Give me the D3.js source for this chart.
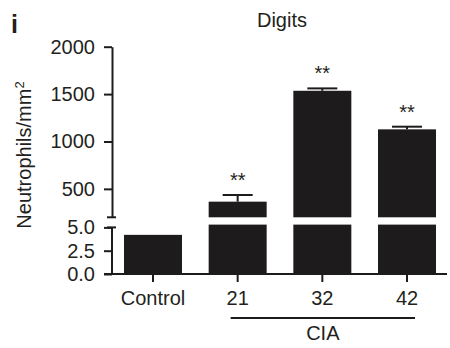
<!DOCTYPE html>
<html>
<head>
<meta charset="utf-8">
<script src="https://cdnjs.cloudflare.com/ajax/libs/d3/7.8.5/d3.min.js"></script>
<style>
  body { margin: 0; background: #fff; }
  svg text { font-family: "Liberation Sans", Arial, sans-serif; fill: #231f20; }
</style>
</head>
<body>
<div id="chart"></div>
<script>
// data
var categories = ['Control', '21', '32', '42'];
var means = [4.2, 365, 1535, 1128];
var errors = [0, 70, 25, 28];
var stars = ['', '**', '**', '**'];
var upperTicks = [500, 1000, 1500, 2000];
var lowerTicks = [0, 2.5, 5];
var groupLabel = 'CIA';
var groupMembers = ['21', '32', '42'];

var W = 450, H = 348;
var ink = '#1e1b1c';

var svg = d3.select('#chart').append('svg')
  .attr('width', W).attr('height', H);

var x = d3.scaleBand().domain(categories)
  .range([111, 449]).paddingInner(0.315).paddingOuter(0.1535);

// broken y axis: two scales stacked
var yLow = d3.scaleLinear().domain([0, 5.3]).range([274, 224.6]);
var yUp = d3.scaleLinear().domain([200, 2000]).range([217.3, 46.7]);
var lowMax = 5.3, upMin = 200;

// bars, lower part
svg.append('g').selectAll('rect')
  .data(means).enter().append('rect')
  .attr('x', function (d, i) { return x(categories[i]); })
  .attr('width', x.bandwidth())
  .attr('y', function (d) { return yLow(Math.min(d, lowMax)); })
  .attr('height', function (d) { return yLow(0) - yLow(Math.min(d, lowMax)); })
  .attr('fill', ink);

// bars, upper part
svg.append('g').selectAll('rect')
  .data(means.filter(function (d) { return d > upMin; })).enter().append('rect')
  .attr('x', function (d) { return x(categories[means.indexOf(d)]); })
  .attr('width', x.bandwidth())
  .attr('y', function (d) { return yUp(d); })
  .attr('height', function (d) { return yUp(upMin) - yUp(d); })
  .attr('fill', ink);

// error bars (upper only)
var eb = svg.append('g').attr('stroke', ink).attr('stroke-width', 2);
means.forEach(function (d, i) {
  if (d <= upMin || !errors[i]) return;
  var cx = x(categories[i]) + x.bandwidth() / 2;
  eb.append('line').attr('x1', cx).attr('x2', cx)
    .attr('y1', yUp(d)).attr('y2', yUp(d + errors[i]));
  eb.append('line').attr('x1', cx - 15).attr('x2', cx + 15)
    .attr('y1', yUp(d + errors[i])).attr('y2', yUp(d + errors[i]));
});

// significance stars
svg.append('g').selectAll('text')
  .data(means).enter().append('text')
  .attr('x', function (d, i) { return x(categories[i]) + x.bandwidth() / 2; })
  .attr('y', function (d, i) { return yUp(d + errors[i]) - 8; })
  .attr('text-anchor', 'middle')
  .style('font-size', '20px')
  .text(function (d, i) { return stars[i]; });

// y axes
var gUp = svg.append('g').attr('transform', 'translate(112,0)')
  .call(d3.axisLeft(yUp).tickValues(upperTicks).tickSize(8).tickPadding(9)
    .tickFormat(d3.format('d')).tickSizeOuter(0));
var gLow = svg.append('g').attr('transform', 'translate(112,0)')
  .call(d3.axisLeft(yLow).tickValues(lowerTicks).tickSize(8).tickPadding(9)
    .tickFormat(d3.format('.1f')).tickSizeOuter(0));
gLow.select('.domain').attr('d', 'M0,' + yLow(0) + 'V' + yLow(5));
[gUp, gLow].forEach(function (g) {
  g.selectAll('.domain, line').attr('stroke', ink).attr('stroke-width', 2);
  g.selectAll('text').style('font-size', '20px').attr('fill', ink);
});
// break caps
svg.append('g').attr('stroke', ink).attr('stroke-width', 2)
  .selectAll('line').data([yUp(upMin), yLow(5)]).enter().append('line')
  .attr('x1', 107).attr('x2', 116).attr('y1', function (d) { return d; }).attr('y2', function (d) { return d; });

// x axis
var gx = svg.append('g').attr('transform', 'translate(0,' + yLow(0) + ')')
  .call(d3.axisBottom(x).tickSize(8).tickPadding(9).tickSizeOuter(0));
gx.select('.domain').attr('d', 'M104,0H447');
gx.selectAll('.domain, line').attr('stroke', ink).attr('stroke-width', 2);
gx.selectAll('text').style('font-size', '20px').attr('fill', ink);

// group line and label
var gx0 = x(groupMembers[0]) + x.bandwidth() / 2 - 7;
var gx1 = x(groupMembers[groupMembers.length - 1]) + x.bandwidth() / 2 + 8;
svg.append('line').attr('x1', gx0).attr('x2', gx1).attr('y1', 318).attr('y2', 318)
  .attr('stroke', ink).attr('stroke-width', 2);
svg.append('text').attr('x', (gx0 + gx1) / 2).attr('y', 340)
  .attr('text-anchor', 'middle').style('font-size', '20px').text(groupLabel);

// title, panel letter, y label
svg.append('text').attr('x', 282).attr('y', 27).attr('text-anchor', 'middle')
  .style('font-size', '20px').text('Digits');
svg.append('text').attr('x', 11).attr('y', 33)
  .style('font-size', '25px').style('font-weight', 'bold').text('i');
var yl = svg.append('text').attr('transform', 'translate(31,155) rotate(-90)')
  .attr('text-anchor', 'middle').style('font-size', '20px');
yl.append('tspan').text('Neutrophils/mm');
yl.append('tspan').attr('dy', '-0.55em').style('font-size', '13px').text('2');
</script>
</body>
</html>
